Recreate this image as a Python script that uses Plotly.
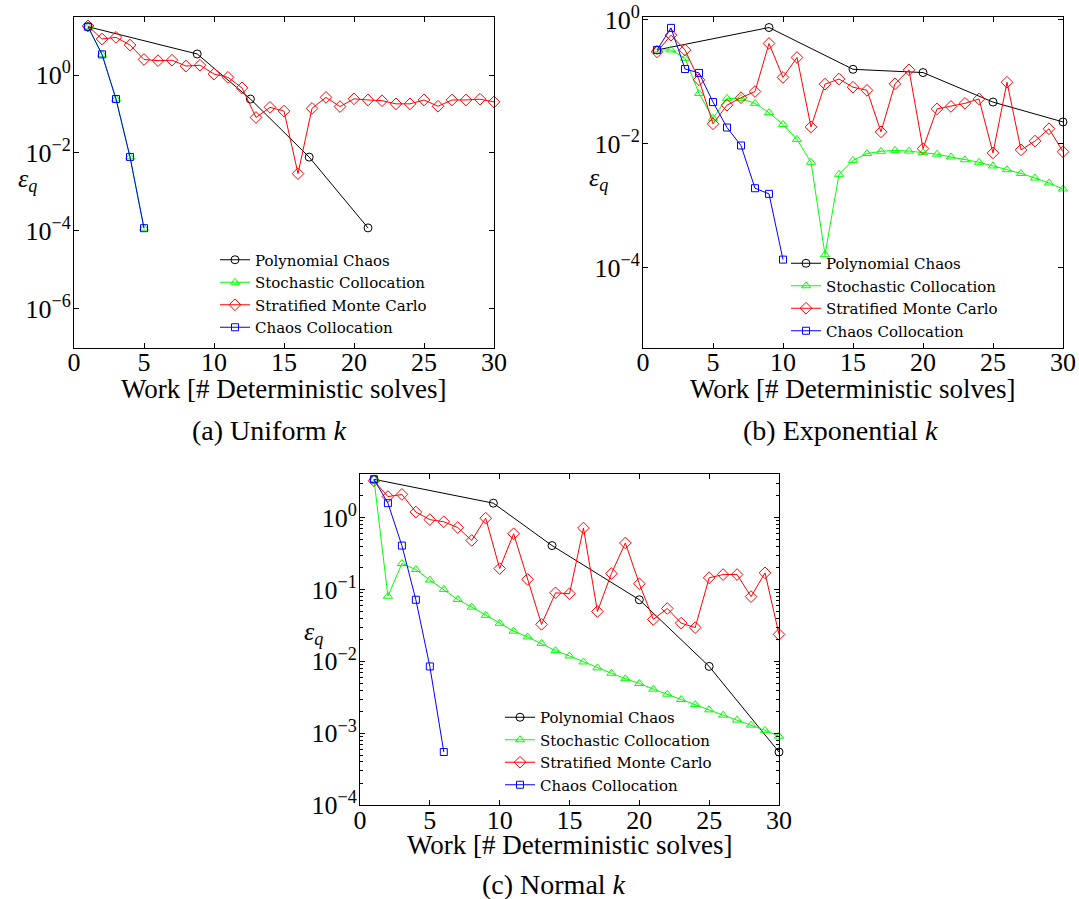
import plotly.graph_objects as go

# the page's default 8 px body margin is removed so the figure fills the window
OFF = 0
W, H = 1079, 899

# ---------------- data ----------------
work = list(range(1, 31))

# (a) Uniform k
a_pc_work = [1, 8.8, 12.6, 16.8, 21]
a_pc_err = [17.4, 3.47, 0.242, 7.8e-3, 1.19e-4]
a_sc_work = [1, 2, 3, 4, 5]
a_sc_err = [17.4, 3.39, 0.242, 7.9e-3, 1.17e-4]
a_cc_work = [1, 2, 3, 4, 5]
a_cc_err = [17.4, 3.39, 0.242, 7.9e-3, 1.17e-4]
a_smc_err = [18.2, 8.41, 9.27, 5.89, 2.51, 2.34, 2.40, 1.70, 1.78, 1.06,
             0.871, 0.468, 0.0813, 0.148, 0.119, 0.00295, 0.139, 0.267, 0.155, 0.245,
             0.229, 0.219, 0.182, 0.182, 0.229, 0.158, 0.229, 0.229, 0.240, 0.204]

# (b) Exponential k
b_pc_work = [1, 9, 15, 20, 25, 30]
b_pc_err = [0.324, 0.745, 0.158, 0.140, 0.0468, 0.0224]
b_cc_work = [1, 2, 3, 4, 5, 6, 7, 8, 9, 10]
b_cc_err = [0.324, 0.735, 0.160, 0.138, 0.0468, 0.0182, 0.00933, 0.00191, 0.00155, 1.35e-4]
b_sc_err = [0.324, 0.324, 0.238, 0.0646, 0.0257, 0.0537, 0.0537, 0.0447, 0.0316, 0.0204,
            0.0117, 0.00501, 1.62e-4, 0.0032, 0.00537, 0.00692, 0.00752, 0.0078, 0.00759, 0.00716,
            0.00676, 0.0061, 0.0055, 0.00501, 0.00437, 0.0038, 0.00331, 0.00279, 0.00232, 0.00186]
b_smc_err = [0.302, 0.562, 0.324, 0.107, 0.0209, 0.0417, 0.055, 0.0692, 0.412, 0.117,
             0.245, 0.0186, 0.0912, 0.110, 0.0813, 0.0724, 0.0155, 0.0923, 0.155, 0.00832,
             0.0363, 0.0398, 0.0447, 0.0525, 0.00708, 0.0977, 0.00794, 0.011, 0.0174, 0.00741]

# (c) Normal k
c_pc_work = [1, 9.55, 13.75, 20, 25, 30]
c_pc_err = [3.39, 1.58, 0.407, 0.0718, 0.00851, 5.5e-4]
c_cc_work = [1, 2, 3, 4, 5, 6]
c_cc_err = [3.39, 1.58, 0.407, 0.0718, 0.00851, 5.5e-4]
c_sc_err = [3.39, 0.0805, 0.229, 0.189, 0.135, 0.1, 0.0724, 0.0568, 0.0437, 0.0339,
            0.0263, 0.0219, 0.0178, 0.0141, 0.0119, 0.00982, 0.00813, 0.00684, 0.00575, 0.00493,
            0.00411, 0.0035, 0.00295, 0.00251, 0.00212, 0.00179, 0.00153, 0.0013, 0.0011, 0.000912]
c_smc_err = [3.24, 1.95, 2.09, 1.19, 0.933, 0.871, 0.724, 0.479, 0.977, 0.195,
             0.594, 0.138, 0.0327, 0.0897, 0.0871, 0.713, 0.0494, 0.166, 0.442, 0.120,
             0.0383, 0.0543, 0.034, 0.0295, 0.145, 0.161, 0.161, 0.0794, 0.170, 0.0237]

names = ["Polynomial Chaos", "Stochastic Collocation", "Stratified Monte Carlo", "Chaos Collocation"]
x_ticks = [0, 5, 10, 15, 20, 25, 30]

# ---------------- styling helpers ----------------
SERIF = "Liberation Serif"
LEG_FONT = "DejaVu Serif"
COL = {"pc": "#000000", "sc": "#00ff00", "smc": "#ff0000", "cc": "#0000ff"}
SYM = {"pc": ("circle-open", 8), "sc": ("triangle-up-open", 8),
       "smc": ("diamond-open", 9), "cc": ("square-open", 7)}


def px(xs):
    return (xs - OFF) / W


def py(ys):
    return 1 - (ys - OFF) / H


fig = go.Figure()


def add(key, x, y, k, legend, line_colors=None):
    sym, size = SYM[key]
    mline = dict(color=line_colors if line_colors else COL[key], width=1)
    fig.add_trace(go.Scatter(
        x=x, y=y, mode="lines+markers", name=names[["pc", "sc", "smc", "cc"].index(key)],
        line=dict(color=COL[key], width=1),
        marker=dict(symbol=sym, size=size, color=COL[key], line=mline),
        xaxis="x" + ("" if k == 1 else str(k)), yaxis="y" + ("" if k == 1 else str(k)),
        legend=legend, cliponaxis=False,
    ))


# panel (a)
add("pc", a_pc_work, a_pc_err, 1, "legend")
add("sc", a_sc_work, a_sc_err, 1, "legend")
add("smc", work, a_smc_err, 1, "legend")
add("cc", a_cc_work, a_cc_err, 1, "legend")
# panel (b)
add("pc", b_pc_work, b_pc_err, 2, "legend2",
    line_colors=["#000000"] * (len(b_pc_work) - 1) + ["rgba(0,0,0,0)"])
add("sc", work, b_sc_err, 2, "legend2")
add("smc", work, b_smc_err, 2, "legend2")
add("cc", b_cc_work, b_cc_err, 2, "legend2")
# panel (c)
add("pc", c_pc_work, c_pc_err, 3, "legend3")
add("sc", work, c_sc_err, 3, "legend3")
add("smc", work, c_smc_err, 3, "legend3")
add("cc", c_cc_work, c_cc_err, 3, "legend3")


def sup_label(e):
    return "10<sup>%s</sup>" % (str(e).replace("-", "\u2212"))


def xaxis(dom, anchor):
    return dict(domain=dom, anchor=anchor, range=[0, 30], tickvals=x_ticks,
                ticks="inside", ticklen=5, tickwidth=1, tickcolor="black",
                mirror="allticks", showline=True, linecolor="black", linewidth=1,
                showgrid=False, zeroline=False, automargin=False, ticklabelstandoff=-9,
                ticklabeloverflow="allow",
                tickfont=dict(family=SERIF, size=26, color="black"))


def yaxis(dom, anchor, rng, exps, minor_vals=None):
    d = dict(domain=dom, anchor=anchor, type="log", range=rng,
             tickvals=[10.0 ** e for e in exps], ticktext=[sup_label(e) for e in exps],
             ticks="inside", ticklen=5, tickwidth=1, tickcolor="black",
             mirror="allticks", showline=True, linecolor="black", linewidth=1,
             showgrid=False, zeroline=False, ticklabelstandoff=-3, automargin=False,
             ticklabeloverflow="allow",
             tickfont=dict(family=SERIF, size=26, color="black"))
    if minor_vals:
        d["minor"] = dict(tickvals=minor_vals, ticks="inside", ticklen=3,
                          tickcolor="black", tickwidth=1, showgrid=False)
    return d


c_minor = [m * 10.0 ** e for e in [-4, -3, -2, -1, 0] for m in range(2, 10) if m * 10.0 ** e < 4.0]

legend_common = dict(bgcolor="rgba(0,0,0,0)", borderwidth=0,
                     font=dict(family=LEG_FONT, size=15, color="black"),
                     xanchor="left", yanchor="middle", tracegroupgap=0)

fig.update_layout(
    template="none",
    width=W, height=H, margin=dict(l=0, r=0, t=0, b=0, autoexpand=False),
    paper_bgcolor="white", plot_bgcolor="white",
    font=dict(family=SERIF, size=14, color="black"),
    xaxis=xaxis([px(74), px(494)], "y"),
    yaxis=yaxis([py(347.7), py(17)], "x", [-7, 1.49], [-6, -4, -2, 0]),
    xaxis2=xaxis([px(643), px(1063)], "y2"),
    yaxis2=yaxis([py(347.7), py(17)], "x2", [-5.29, 0.042], [-4, -2, 0]),
    xaxis3=xaxis([px(360), px(779)], "y3"),
    yaxis3=yaxis([py(805.3), py(474.3)], "x3", [-4, 0.6], [-4, -3, -2, -1, 0], c_minor),
    legend=dict(x=px(215), y=py(293.5), **legend_common),
    legend2=dict(x=px(786), y=py(297), **legend_common),
    legend3=dict(x=px(500), y=py(751), **legend_common),
    showlegend=True,
)

ann = []


def text(xs, ys, s, size=28, family=SERIF):
    ann.append(dict(x=px(xs), y=py(ys), xref="paper", yref="paper", text=s,
                    showarrow=False, xanchor="center", yanchor="middle",
                    font=dict(family=family, size=size, color="black")))


xlabel = "Work [# Deterministic solves]"
eps = "<i>\u03b5<sub>q</sub></i>"
text(284, 389, xlabel, size=27)
text(853, 389, xlabel, size=27)
text(569.5, 845, xlabel, size=27)
text(27, 180, eps, size=26)
text(598, 179, eps, size=26)
text(313, 633, eps, size=26)
text(269, 430, "(a) Uniform <i>k</i>")
text(840, 430, "(b) Exponential <i>k</i>")
text(554, 884, "(c) Normal <i>k</i>")
fig.update_layout(annotations=ann)

fig.write_html(
    "out.html",
    config={"displayModeBar": False},
    post_script="document.body.style.margin='0px';document.body.style.overflow='hidden';",
)
